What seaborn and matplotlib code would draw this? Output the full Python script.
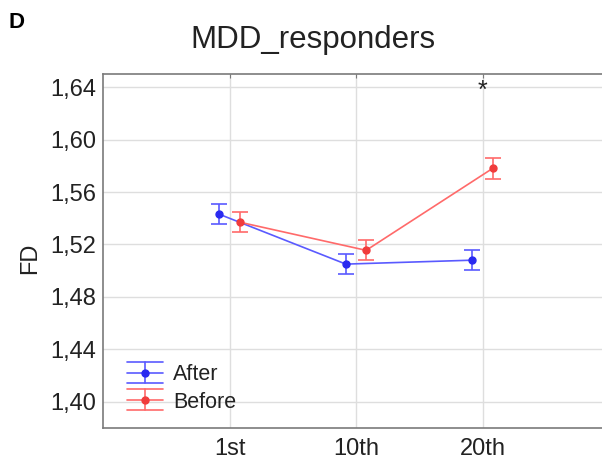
import matplotlib
matplotlib.use("Agg")
import matplotlib.pyplot as plt
from matplotlib.lines import Line2D
from matplotlib.legend_handler import HandlerBase
from matplotlib.ticker import FuncFormatter
import numpy as np
import pandas as pd
import seaborn as sns

# Mean FD per session, with error half-widths
sessions = ["1st", "10th", "20th"]
groups = ["After", "Before"]
fd_after = [1.543, 1.505, 1.508]
fd_before = [1.537, 1.5155, 1.578]
err_after = [0.0077, 0.0077, 0.0077]
err_before = [0.0077, 0.0077, 0.0080]
star_session = "20th"
star_level = 1.637

line_colors = {"After": "#5a5aff", "Before": "#ff6a6a"}
marker_colors = {"After": "#2a2af0", "Before": "#f03c3c"}
offsets = {"After": -0.08, "Before": 0.08}

rows = []
for g, vals, errs in (("After", fd_after, err_after), ("Before", fd_before, err_before)):
    for i, (s, v, e) in enumerate(zip(sessions, vals, errs)):
        rows.append({"Session": s, "Group": g, "FD": v, "err": e,
                     "pos": i + 1 + offsets[g]})
df = pd.DataFrame(rows)

sns.set_theme(style="whitegrid")
plt.rcParams["font.family"] = ["Liberation Sans", "DejaVu Sans"]

fig = plt.figure(figsize=(6.02, 4.61), dpi=100)
ax = fig.add_axes([103 / 602, 33 / 461, 506 / 602, 354 / 461])

sns.lineplot(data=df, x="pos", y="FD", hue="Group", palette=line_colors,
             linewidth=1.2, legend=False, ax=ax, zorder=3)
for g in groups:
    sub = df[df["Group"] == g]
    ax.errorbar(sub["pos"], sub["FD"], yerr=sub["err"], fmt="o",
                color=line_colors[g], mfc=marker_colors[g], mec=marker_colors[g],
                ms=5, elinewidth=1.2, capsize=6, capthick=1.2, zorder=4)

ax.text(sessions.index(star_session) + 1, star_level, "*", ha="center",
        va="center", fontsize=18, color="#222222")

ax.set_xlim(0, 4)
ax.set_ylim(1.38, 1.65)
ax.set_xticks(range(1, len(sessions) + 1))
ax.set_xticklabels(sessions)
ax.set_yticks(np.arange(1.40, 1.641, 0.04))
ax.yaxis.set_major_formatter(FuncFormatter(lambda v, p: f"{v:.2f}".replace(".", ",")))
ax.set_xlabel("")
ax.set_ylabel("")

ax.set_facecolor("white")
ax.grid(True, color="#dedede", linewidth=1.0)
for sp in ax.spines.values():
    sp.set_visible(True)
    sp.set_color("#7a7a7a")
    sp.set_linewidth(1.2)
ax.tick_params(axis="both", direction="in", length=3, width=0.8, color="#7a7a7a",
               labelsize=17, labelcolor="#222222", top=True, right=True)
ax.tick_params(axis="y", pad=5)
ax.tick_params(axis="x", pad=7)


class ErrHandle(HandlerBase):
    def create_artists(self, legend, orig, xdescent, ydescent, width, height,
                       fontsize, trans):
        g = orig.get_label()
        lc, mc = line_colors[g], marker_colors[g]
        x0, x1 = -xdescent, -xdescent + width
        yc = -ydescent + height / 2
        h = 10.5 * 72 / 100
        xm = (x0 + x1) / 2
        arts = [
            Line2D([x0, x1], [yc, yc], color=lc, lw=1.2),
            Line2D([x0, x1], [yc + h, yc + h], color=lc, lw=1.2),
            Line2D([x0, x1], [yc - h, yc - h], color=lc, lw=1.2),
            Line2D([xm, xm], [yc - h, yc + h], color=lc, lw=1.2),
            Line2D([xm], [yc], marker="o", ms=5, color=mc, lw=0),
        ]
        for a in arts:
            a.set_transform(trans)
        return arts


handles = [Line2D([], [], label=g) for g in groups]
ax.legend(handles=handles, labels=groups, handler_map={Line2D: ErrHandle()},
          loc="lower left", bbox_to_anchor=(0.01, -0.011), frameon=False,
          fontsize=15.5, handlelength=1.63, handletextpad=0.5,
          labelspacing=0.3, borderaxespad=0.5, labelcolor="#222222")

fig.text(313 / 602, 1 - 48 / 461, "MDD_responders", ha="center", va="baseline",
         fontsize=22.5, color="#222222")
fig.text(30 / 602, 1 - 258 / 461, "FD", ha="center", va="center", rotation=90,
         fontsize=17, color="#222222")
fig.text(9 / 602, 1 - 28 / 461, "D", ha="left", va="baseline", fontsize=16,
         fontweight="bold", color="black")

fig.savefig("out.png", dpi=100)
